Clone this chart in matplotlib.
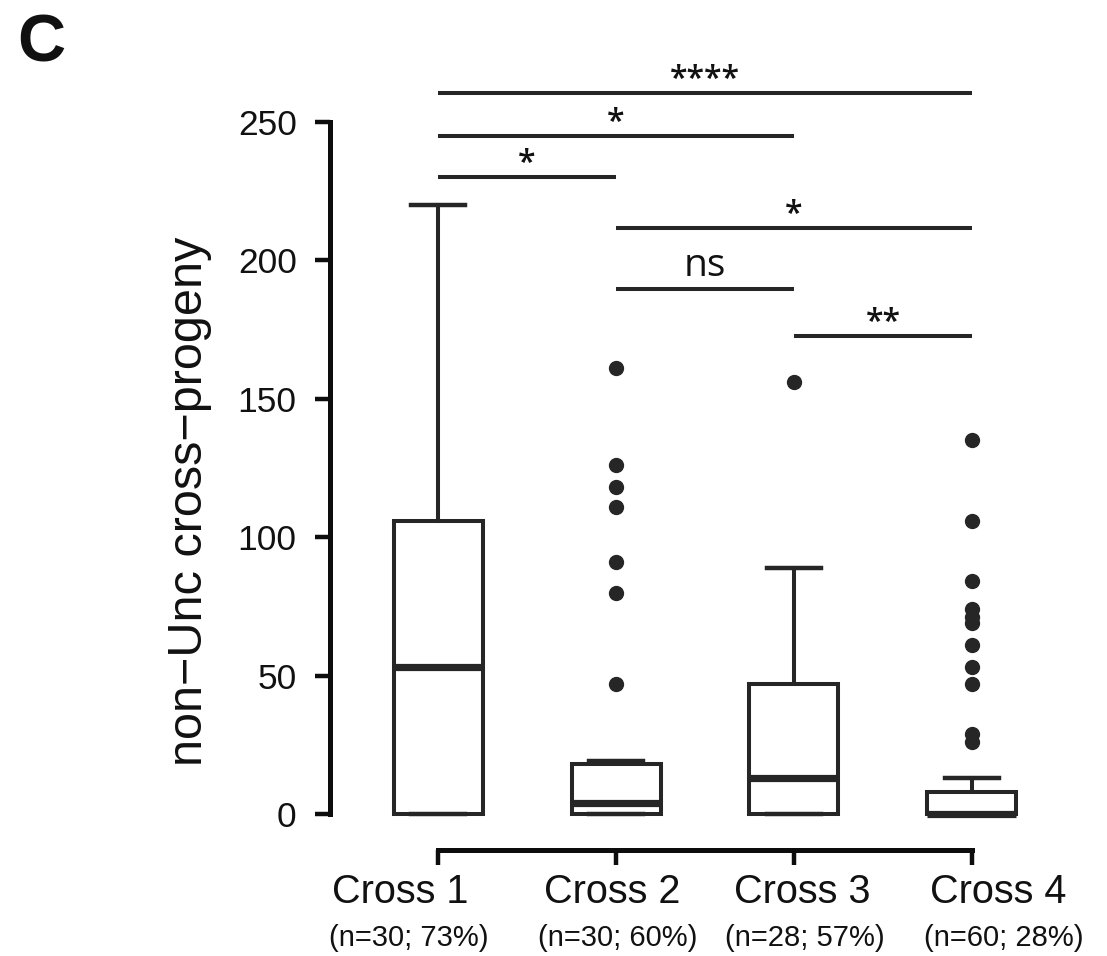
import matplotlib
matplotlib.use("Agg")
import matplotlib.pyplot as plt

crosses = ["Cross 1", "Cross 2", "Cross 3", "Cross 4"]
sample_info = ["(n=30; 73%)", "(n=30; 60%)", "(n=28; 57%)", "(n=60; 28%)"]

# box summaries per cross
q1 = [0, 0, 0, 0]
medians = [53, 4, 13, 0]
q3 = [106, 18, 47, 8]
whisker_low = [0, 0, 0, 0]
whisker_high = [220, 19, 89, 13]
outliers = [
    [],
    [161, 126, 118, 111, 91, 80, 47],
    [156],
    [135, 106, 84, 74, 71, 69, 61, 53, 47, 29, 26],
]

# pairwise tests
pairs = [(1, 4), (1, 3), (1, 2), (2, 4), (2, 3), (3, 4)]
pair_labels = ["****", "*", "*", "*", "ns", "**"]
bar_heights = [260.5, 245, 230, 211.5, 189.5, 172.5]

# hand placed category label centres
name_x = [0.79, 1.98, 3.045, 4.145]
info_x = [0.835, 2.01, 3.06, 4.18]

ink = "#262626"
txt = "#111111"
plt.rcParams["font.family"] = ["Liberation Sans", "DejaVu Sans"]

fig = plt.figure(figsize=(11.07, 9.56), dpi=100)
ax = fig.add_axes([0.2981, 0.1109, 0.6362, 0.8195])

stats = []
for i in range(len(crosses)):
    stats.append(dict(med=medians[i], q1=q1[i], q3=q3[i],
                      whislo=whisker_low[i], whishi=whisker_high[i],
                      fliers=outliers[i], label=crosses[i]))

ax.bxp(stats, positions=[1, 2, 3, 4], widths=0.5, capwidths=0.3,
       patch_artist=True,
       boxprops=dict(facecolor="white", edgecolor=ink, linewidth=2.9),
       whiskerprops=dict(color=ink, linewidth=2.9),
       capprops=dict(color=ink, linewidth=3.2),
       medianprops=dict(color=ink, linewidth=5.2),
       flierprops=dict(marker="o", markerfacecolor=ink, markeredgecolor=ink,
                       markersize=10))

ax.set_xlim(0.393, 4.35)
ax.set_ylim(-13, 270)

for s in ["top", "right"]:
    ax.spines[s].set_visible(False)
ax.spines["left"].set_bounds(0, 250)
ax.spines["bottom"].set_bounds(1, 4)
for s in ["left", "bottom"]:
    ax.spines[s].set_linewidth(3.6)
    ax.spines[s].set_color("#0d0d0d")

ax.set_yticks([0, 50, 100, 150, 200, 250])
ax.set_xticks([1, 2, 3, 4])
ax.set_xticklabels([])
ax.tick_params(axis="both", length=11, width=3.2, color="#0d0d0d")
ax.tick_params(axis="y", pad=13, labelsize=25.5, labelcolor=txt)

for i in range(len(crosses)):
    ax.text(name_x[i], -32.2, crosses[i], ha="center", va="baseline",
            fontsize=28.5, color=txt, clip_on=False)
    ax.text(info_x[i], -47.7, sample_info[i], ha="center", va="baseline",
            fontsize=21, color=txt, clip_on=False)

# significance bars
for (a, b), lab, h in zip(pairs, pair_labels, bar_heights):
    ax.plot([a, b], [h, h], color=ink, linewidth=2.9, solid_capstyle="butt",
            clip_on=False)
    if lab == "ns":
        ax.text((a + b) / 2, h + 5, lab, ha="center", va="baseline",
                fontsize=28, family="Open Sans", color=txt)
    else:
        ax.text((a + b) / 2, h + 1.5, lab, ha="center", va="baseline",
                fontsize=23, family="Open Sans", fontweight="semibold",
                color=txt)

fig.text(190 / 1107, 1 - 501 / 956, "non\u2212Unc cross\u2212progeny",
         rotation=90, ha="center", va="center", fontsize=35, color=txt)
fig.text(17 / 1107, 1 - 61 / 956, "C", ha="left", va="baseline",
         fontsize=48, fontweight="bold", color=txt)

fig.savefig("out.png", dpi=100)
